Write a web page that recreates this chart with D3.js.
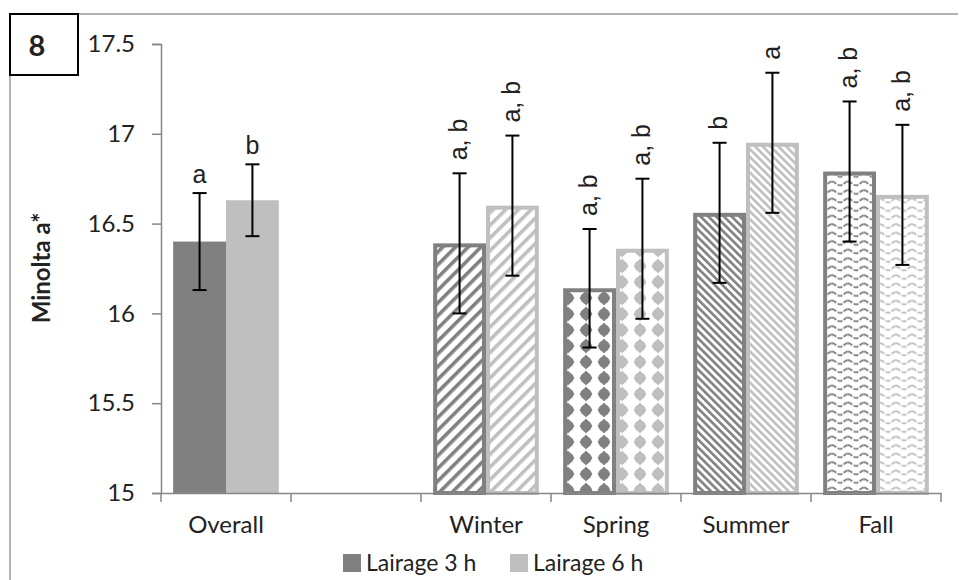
<!DOCTYPE html>
<html>
<head>
<meta charset="utf-8">
<script src="https://cdn.jsdelivr.net/npm/d3@7"></script>
<style>
  html, body { margin: 0; padding: 0; background: #fff; }
  svg { display: block; }
</style>
</head>
<body>
<svg id="chart" width="959" height="580"></svg>
<script>
// Minolta a* by lairage time, overall and per season
const categories = ["Overall", "", "Winter", "Spring", "Summer", "Fall"];
const seriesNames = ["Lairage 3 h", "Lairage 6 h"];
const lairage3 = [16.40, null, 16.39, 16.14, 16.56, 16.79];
const lairage6 = [16.63, null, 16.60, 16.36, 16.95, 16.66];
const se3 = [0.27, null, 0.39, 0.33, 0.39, 0.39];
const se6 = [0.20, null, 0.39, 0.39, 0.39, 0.39];
const letters3 = ["a", null, "a, b", "a, b", "b", "a, b"];
const letters6 = ["b", null, "a, b", "a, b", "a", "a, b"];
const yTicks = [15, 15.5, 16, 16.5, 17, 17.5];
const yTickLabels = ["15", "15.5", "16", "16.5", "17", "17.5"];
const fillKinds = ["solid", null, "wide", "diamond", "narrow", "wave"];

const colors = ["#808080", "#bfbfbf"];
const axisColor = "#868686";
const uiFont = "Lato, 'Open Sans', sans-serif";
const letterFont = "'Liberation Sans', Arial, sans-serif";

const svg = d3.select("#chart");
const defs = svg.append("defs");

// outer frame and panel number
svg.append("path")
  .attr("d", "M10,580 V14 H958")
  .attr("fill", "none").attr("stroke", "#999").attr("stroke-width", 1.5);
svg.append("rect")
  .attr("x", 10).attr("y", 14).attr("width", 68).attr("height", 61)
  .attr("fill", "#fff").attr("stroke", "#000").attr("stroke-width", 2);
svg.append("text")
  .attr("x", 37).attr("y", 56).attr("text-anchor", "middle")
  .attr("font-family", uiFont).attr("font-weight", "bold").attr("font-size", 29)
  .attr("fill", "#222").text("8");

const y = d3.scaleLinear().domain([15, 17.5]).range([493, 44]);
const x = d3.scaleBand().domain(categories.map((c, i) => i)).range([161, 941]).padding(0);
const xs = d3.scaleBand().domain([0, 1]).range([0, x.bandwidth()]).paddingInner(0).paddingOuter(0.23);

// fill patterns, one per season and series
colors.forEach((col, s) => {
  // wide upward diagonal
  const pw = defs.append("pattern").attr("id", `wide${s}`)
    .attr("patternUnits", "userSpaceOnUse").attr("width", 9).attr("height", 9)
    .attr("patternTransform", "rotate(45)");
  pw.append("rect").attr("width", 9).attr("height", 9).attr("fill", "#fff");
  pw.append("rect").attr("width", 3.6).attr("height", 9).attr("fill", col);

  // narrow downward diagonal
  const pn = defs.append("pattern").attr("id", `narrow${s}`)
    .attr("patternUnits", "userSpaceOnUse").attr("width", 5.5).attr("height", 5.5)
    .attr("patternTransform", "rotate(-45)");
  pn.append("rect").attr("width", 5.5).attr("height", 5.5).attr("fill", "#fff");
  pn.append("rect").attr("width", 2.6).attr("height", 5.5).attr("fill", col);

  // solid diamond grid
  const pd = defs.append("pattern").attr("id", `diamond${s}`)
    .attr("patternUnits", "userSpaceOnUse").attr("width", 18).attr("height", 16)
    .attr("x", 1).attr("y", 2);
  pd.append("rect").attr("width", 18).attr("height", 16).attr("fill", "#fff");
  pd.append("circle").attr("cx", 9).attr("cy", 8).attr("r", 5.6).attr("fill", col);
  pd.append("path")
    .attr("d", "M9,0.5 L15.5,8 L9,15.5 L2.5,8 Z")
    .attr("fill", col);

  // wave
  const pv = defs.append("pattern").attr("id", `wave${s}`)
    .attr("patternUnits", "userSpaceOnUse").attr("width", 16).attr("height", 8.5);
  pv.append("rect").attr("width", 16).attr("height", 8.5).attr("fill", "#fff");
  pv.append("path")
    .attr("d", "M0,3 C3,3 5,7 8,7 C11,7 13,3 16,3")
    .attr("fill", "none").attr("stroke", col).attr("stroke-width", 1.8)
    .attr("stroke-dasharray", "5,1.5");
});

// bar records
const bars = [];
categories.forEach((c, i) => {
  [lairage3, lairage6].forEach((arr, s) => {
    if (arr[i] == null) return;
    bars.push({
      i, s, value: arr[i],
      se: s === 0 ? se3[i] : se6[i],
      letter: s === 0 ? letters3[i] : letters6[i],
      kind: fillKinds[i]
    });
  });
});

const barX = d => x(d.i) + xs(d.s);
const bw = xs.bandwidth();

// bars
const gBars = svg.append("g");
gBars.selectAll("rect.bar").data(bars).join("rect")
  .attr("class", "bar")
  .attr("x", d => d.kind === "solid" ? barX(d) : barX(d) + 2)
  .attr("y", d => d.kind === "solid" ? y(d.value) : y(d.value) + 2)
  .attr("width", d => d.kind === "solid" ? bw : bw - 4)
  .attr("height", d => d.kind === "solid" ? y(15) - y(d.value) : y(15) - y(d.value) - 2)
  .attr("fill", d => d.kind === "solid" ? colors[d.s] : `url(#${d.kind}${d.s})`)
  .attr("stroke", d => d.kind === "solid" ? "none" : colors[d.s])
  .attr("stroke-width", 4);

// axes
const gy = svg.append("g").attr("transform", "translate(161,0)")
  .call(d3.axisLeft(y).tickValues(yTicks)
    .tickFormat((v, k) => yTickLabels[k]).tickSize(9).tickPadding(17));
gy.select(".domain").attr("stroke", axisColor).attr("stroke-width", 1.5);
gy.selectAll(".tick line").attr("stroke", axisColor).attr("stroke-width", 1.5);
gy.selectAll(".tick text").attr("font-family", uiFont).attr("font-size", 24).attr("fill", "#222");

const gx = svg.append("g").attr("transform", "translate(0,493)")
  .call(d3.axisBottom(x).tickSize(0).tickPadding(23).tickFormat(i => categories[i]));
gx.select(".domain").attr("stroke", axisColor).attr("stroke-width", 1.5);
gx.selectAll(".tick text").attr("font-family", uiFont).attr("font-size", 24).attr("fill", "#222");
// category boundary ticks
const bounds = categories.map((c, i) => x(i)).concat([x(categories.length - 1) + x.bandwidth()]);
gx.selectAll("line.bound").data(bounds).join("line")
  .attr("class", "bound")
  .attr("x1", d => d).attr("x2", d => d).attr("y1", 0).attr("y2", 9)
  .attr("stroke", axisColor).attr("stroke-width", 1.5);

// error bars
const gErr = svg.append("g").attr("stroke", "#000").attr("stroke-width", 2);
bars.forEach(d => {
  const cx = barX(d) + bw / 2;
  const top = y(d.value + d.se), bot = y(d.value - d.se);
  gErr.append("line").attr("x1", cx).attr("x2", cx).attr("y1", top).attr("y2", bot);
  gErr.append("line").attr("x1", cx - 7).attr("x2", cx + 7).attr("y1", top).attr("y2", top);
  gErr.append("line").attr("x1", cx - 7).attr("x2", cx + 7).attr("y1", bot).attr("y2", bot);
});

// significance letters
const gLab = svg.append("g").attr("font-family", letterFont).attr("font-size", 25).attr("fill", "#222");
bars.forEach(d => {
  const cx = barX(d) + bw / 2;
  const top = y(d.value + d.se);
  if (d.kind === "solid") {
    gLab.append("text").attr("x", cx).attr("y", top - 10)
      .attr("text-anchor", "middle").text(d.letter);
  } else {
    gLab.append("text")
      .attr("transform", `translate(${cx},${top - 13}) rotate(-90)`)
      .attr("dy", "0.3em").attr("text-anchor", "start").text(d.letter);
  }
});

// y axis title
svg.append("text")
  .attr("transform", "translate(42,268) rotate(-90)")
  .attr("text-anchor", "middle").attr("dy", "0.35em")
  .attr("font-family", uiFont).attr("font-weight", "bold").attr("font-size", 24)
  .attr("fill", "#222").text("Minolta a*");

// legend
const legend = svg.append("g").attr("transform", "translate(343,563)");
const legX = [0, 167];
seriesNames.forEach((name, s) => {
  const g = legend.append("g").attr("transform", `translate(${legX[s]},0)`);
  g.append("rect").attr("x", 0).attr("y", -9).attr("width", 18).attr("height", 18).attr("fill", colors[s]);
  g.append("text").attr("x", 23).attr("dy", "0.35em")
    .attr("font-family", uiFont).attr("font-size", 23).attr("fill", "#222").text(name);
});
</script>
</body>
</html>
